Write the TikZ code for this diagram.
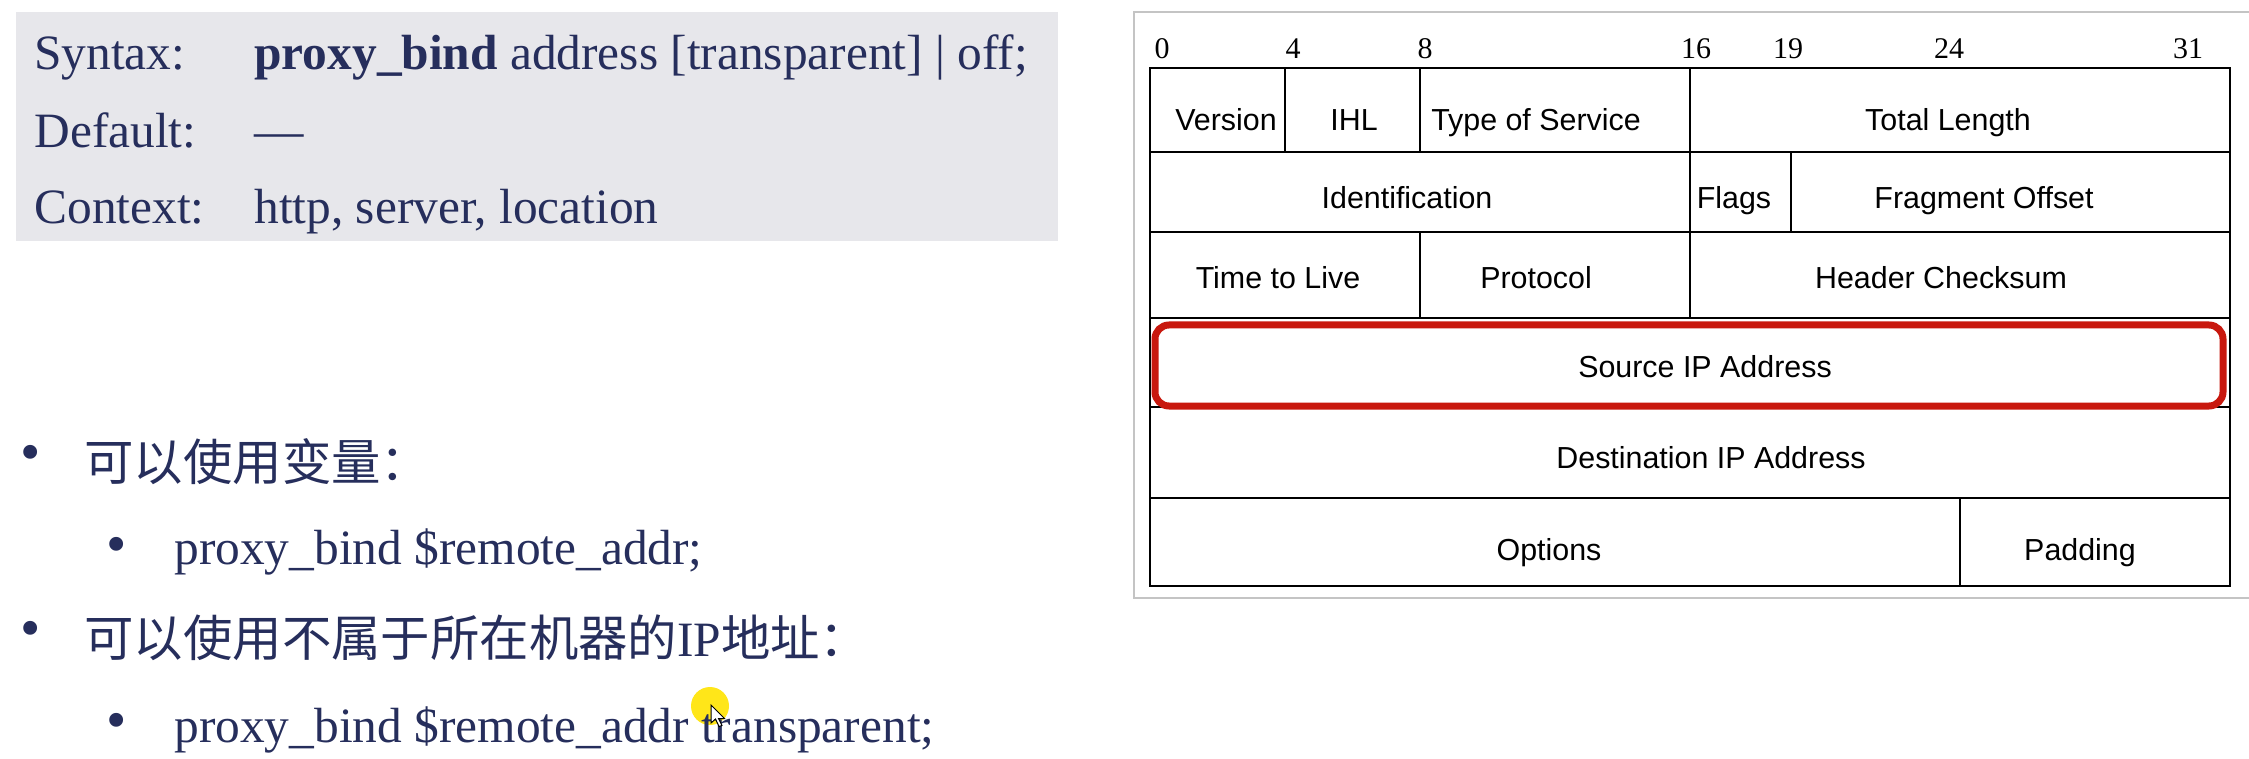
\documentclass[tikz,border=0pt]{standalone}
\usepackage{fontspec}
\setmainfont{Liberation Serif}
\newfontfamily\cjkfont{Noto Sans CJK SC}
\newfontfamily\hdrfont{Liberation Sans}
\definecolor{slidenavy}{RGB}{38,46,92}
\definecolor{boxgray}{RGB}{231,231,235}
\definecolor{markred}{RGB}{200,24,14}
\definecolor{framegray}{RGB}{196,196,196}
\definecolor{cursoryellow}{RGB}{255,228,0}
\tikzset{
  slidetext/.style={anchor=base west, inner sep=0pt, text=slidenavy, font=\fontsize{24.7}{29}\selectfont},
  cjktext/.style={anchor=west, inner sep=0pt, text=slidenavy, font=\cjkfont\fontsize{24.7}{29}\selectfont},
  dot/.style={anchor=center, inner sep=0pt, text=slidenavy, font=\fontsize{29}{32}\selectfont},
  fieldtext/.style={anchor=base, inner sep=0pt, font=\hdrfont\fontsize{15.2}{18}\selectfont},
  bitnum/.style={anchor=base, inner sep=0pt, font=\fontsize{15}{18}\selectfont},
  cell/.style={draw=black, line width=1.2pt},
}
\begin{document}
\begin{tikzpicture}[x=0.5pt, y=-0.5pt]
\useasboundingbox (0,0) rectangle (2249,759);
\fill[white] (0,0) rectangle (2249,759);

% directive box
\fill[boxgray] (16,12) rectangle (1058,241);
\node[slidetext] (synkey) at (34,70) {Syntax:};
\node[slidetext] (synval) at (254,70) {\textbf{proxy\_bind} address [transparent] | off;};
\node[slidetext] (defkey) at (34,148) {Default:};
\node[slidetext] (defval) at (254,148) {—};
\node[slidetext] (ctxkey) at (34,224) {Context:};
\node[slidetext] (ctxval) at (254,224) {http, server, location};

% cursor highlight
\fill[cursoryellow, opacity=0.9] (710,706) circle (9.5pt);

% bullet list
\node[dot] (b1) at (31,458) {•};
\node[cjktext] (t1) at (84,462) {可以使用变量：};
\node[dot] (b1a) at (117,550) {•};
\node[slidetext] (t1a) at (174,564) {proxy\_bind \$remote\_addr;};
\node[dot] (b2) at (31,634) {•};
\node[cjktext] (t2) at (84,638) {可以使用不属于所在机器的{\rmfamily IP}地址：};
\node[dot] (b2a) at (117,726) {•};
\node[slidetext] (t2a) at (174,742) {proxy\_bind \$remote\_addr transparent;};

% mouse pointer
\filldraw[fill=white, draw=black, line width=0.5pt] (711,705) -- ++(0,18) -- ++(4.5,-4) -- ++(3.5,7.5)
  -- ++(3,-1) -- ++(-3.5,-7) -- ++(6,0) -- cycle;

% IPv4 header
\draw[framegray, line width=1pt] (2249,12) -- (1134,12) -- (1134,598) -- (2249,598);
\foreach \b/\xx in {0/1162, 4/1293, 8/1425, 16/1696, 19/1788, 24/1949, 31/2188}
  \node[bitnum] (bit\b) at (\xx,59) {\b};
\foreach \ba/\bb/\ya/\yb/\tx/\ty/\nm/\lbl in {
    0/4/68/152/1226/131/ver/Version,
    4/8/68/152/1354/131/ihl/IHL,
    8/16/68/152/1536/131/tos/Type of Service,
    16/32/68/152/1948/131/len/Total Length,
    0/16/152/232/1407/209/ident/Identification,
    16/19/152/232/1734/209/flags/Flags,
    19/32/152/232/1984/209/frag/Fragment Offset,
    0/8/232/318/1278/289/ttl/Time to Live,
    8/16/232/318/1536/289/proto/Protocol,
    16/32/232/318/1941/289/csum/Header Checksum,
    0/32/318/407/1705/378/src/Source IP Address,
    0/32/407/498/1711/468/dst/Destination IP Address,
    0/24/498/586/1549/560/opt/Options,
    24/32/498/586/2080/560/pad/Padding}{
  \pgfmathsetmacro{\xa}{1150 + 33.75 * \ba}
  \pgfmathsetmacro{\xb}{1150 + 33.75 * \bb}
  \draw[cell] (\xa,\ya) rectangle (\xb,\yb);
  \node[fieldtext] (\nm) at (\tx,\ty) {\lbl};
}
\draw[markred, line width=3.5pt, rounded corners=7pt] (1155,325) rectangle (2223,406);
\end{tikzpicture}
\end{document}
